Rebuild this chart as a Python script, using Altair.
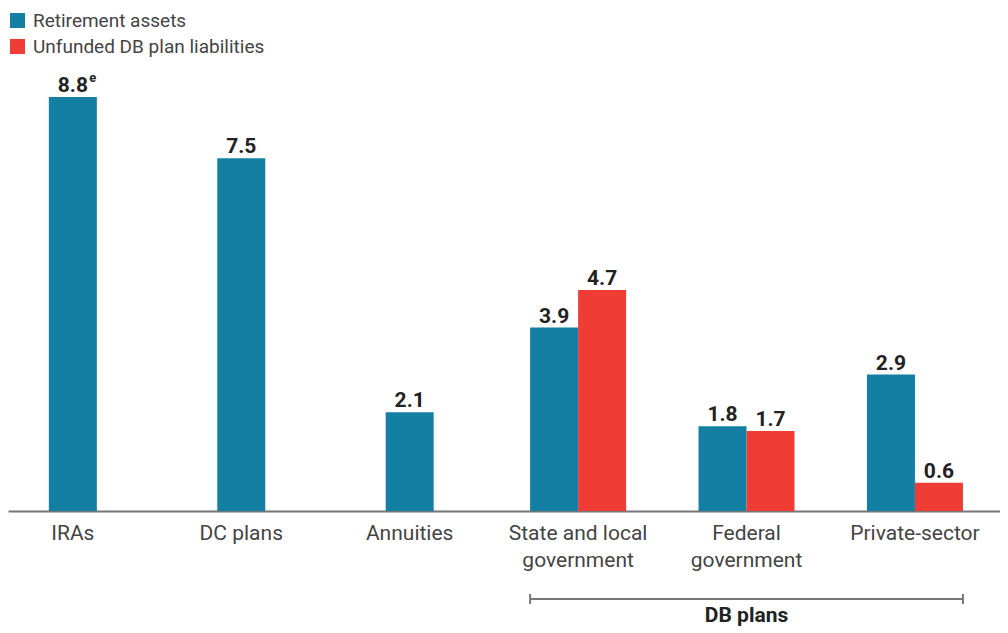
import altair as alt
import pandas as pd

# ---- data ----
categories = ["IRAs", "DC plans", "Annuities",
              "State and local\ngovernment", "Federal\ngovernment", "Private-sector"]
series_names = ["Retirement assets", "Unfunded DB plan liabilities"]
retirement_assets = [8.8, 7.5, 2.1, 3.9, 1.8, 2.9]
unfunded_liabilities = [None, None, None, 4.7, 1.7, 0.6]
value_labels_ret = ["8.8", "7.5", "2.1", "3.9", "1.8", "2.9"]
value_labels_unf = ["", "", "", "4.7", "1.7", "0.6"]
notes_ret = ["e", "", "", "", "", ""]
group_label = "DB plans"
group_start = "State and local\ngovernment"
group_end = "Private-sector"

BLUE = "#127fa3"
RED = "#ef3d36"
FONT = "Roboto"

rows = []
for i, c in enumerate(categories):
    paired = unfunded_liabilities[i] is not None
    rows.append(dict(category=c, series=series_names[0], value=retirement_assets[i],
                     label=value_labels_ret[i], note=notes_ret[i], paired=paired))
    if paired:
        rows.append(dict(category=c, series=series_names[1], value=unfunded_liabilities[i],
                         label=value_labels_unf[i], note="", paired=paired))
df = pd.DataFrame(rows)

XSCALE = alt.Scale(domain=categories, paddingInner=0.23, paddingOuter=0.06, align=0)
XAXIS = alt.Axis(title=None, ticks=False, domainColor="#777777", domainWidth=2,
                 labelFont=FONT, labelFontSize=21, labelColor="#444444",
                 labelPadding=11, labelLineHeight=27, labelAngle=0, labelLimit=300,
                 labelExpr="split(datum.label, '\\n')")


def xenc(field="category", bandPosition=None, axis=False):
    kw = {}
    if bandPosition is not None:
        kw["bandPosition"] = bandPosition
    if axis:
        kw["axis"] = XAXIS
    return alt.X(f"{field}:N", sort=categories, scale=XSCALE, **kw)


yenc = alt.Y("value:Q", scale=alt.Scale(domain=[0, 8.8], nice=False), axis=None)
color = alt.Color("series:N",
                  scale=alt.Scale(domain=series_names, range=[BLUE, RED]),
                  legend=alt.Legend(title=None, orient="none", legendX=0, legendY=-86,
                                    symbolType="square", symbolSize=225,
                                    symbolStrokeWidth=0, labelFont=FONT,
                                    labelFontSize=19, labelColor="#444444",
                                    labelOffset=6, rowPadding=6, padding=0,
                                    labelLimit=400))
xoff = alt.XOffset("series:N",
                   scale=alt.Scale(domain=series_names, paddingOuter=0.351,
                                   paddingInner=0))

base = alt.Chart(df)
single = base.transform_filter("!datum.paired")
paired = base.transform_filter("datum.paired")

bars_single = single.mark_bar(width=48).encode(x=xenc(axis=True), y=yenc, color=color)
bars_paired = paired.mark_bar().encode(x=xenc(), xOffset=xoff, y=yenc, color=color)

text_style = dict(font=FONT, fontSize=21, fontWeight="bold", color="#222222",
                  baseline="alphabetic", dy=-5)
txt_single = single.mark_text(**text_style).encode(
    x=xenc(), y=yenc, text="label:N")
txt_paired = paired.mark_text(**text_style).encode(
    x=xenc(), xOffset=xoff, y=yenc, text="label:N")
txt_note = single.transform_filter("datum.note != ''").mark_text(
    font=FONT, fontSize=13, fontWeight="bold", color="#222222",
    baseline="alphabetic", dx=20, dy=-15).encode(x=xenc(), y=yenc, text="note:N")

bdf = pd.DataFrame([dict(start=group_start, end=group_end, mid=categories[4],
                         label=group_label)])
bbase = alt.Chart(bdf)
bracket = bbase.mark_rule(color="#777777", strokeWidth=2).encode(
    x=xenc("start", bandPosition=0.13),
    x2=alt.X2("end", bandPosition=0.87),
    y=alt.value(502))
tick_l = bbase.mark_rule(color="#777777", strokeWidth=2).encode(
    x=xenc("start", bandPosition=0.13), y=alt.value(497), y2=alt.value(507))
tick_r = bbase.mark_rule(color="#777777", strokeWidth=2).encode(
    x=xenc("end", bandPosition=0.87), y=alt.value(497), y2=alt.value(507))
btext = bbase.mark_text(font=FONT, fontSize=21, fontWeight="bold", color="#222222",
                        baseline="alphabetic").encode(
    x=xenc("mid"), y=alt.value(525), text="label:N")

chart = alt.layer(bars_single, bars_paired, txt_single, txt_paired, txt_note,
                  bracket, tick_l, tick_r, btext).properties(
    width=992, height=414, background="white",
    padding={"top": 3, "left": 0, "right": 0, "bottom": 0}
).configure_view(stroke=None)

chart.save("out.html", embed_options={"renderer": "svg", "actions": False})
